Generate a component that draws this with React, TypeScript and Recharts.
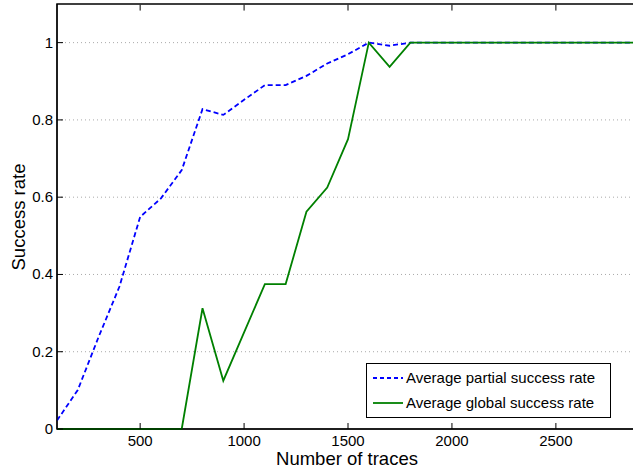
import React from 'react';
import { LineChart, Line, XAxis, YAxis, CartesianGrid, Legend, ReferenceLine, ReferenceArea } from 'recharts';

const traces = [100, 200, 300, 400, 500, 600, 700, 800, 900, 1000, 1100, 1200, 1300, 1400, 1500, 1600, 1700, 1800, 1900, 2000, 2100, 2200, 2300, 2400, 2500, 2600, 2700, 2800, 2900];
const partialRate = [0.022, 0.101, 0.238, 0.368, 0.549, 0.597, 0.67, 0.828, 0.813, 0.852, 0.89, 0.89, 0.914, 0.946, 0.97, 1.0, 0.992, 1, 1, 1, 1, 1, 1, 1, 1, 1, 1, 1, 1];
const globalRate = [0, 0, 0, 0, 0, 0, 0, 0.3125, 0.125, 0.25, 0.375, 0.375, 0.5625, 0.625, 0.75, 1.0, 0.9375, 1, 1, 1, 1, 1, 1, 1, 1, 1, 1, 1, 1];
const xTicks = [500, 1000, 1500, 2000, 2500];
const yTicks = [0, 0.2, 0.4, 0.6, 0.8, 1];
const yTickLabels = ['0', '0.2', '0.4', '0.6', '0.8', '1'];
const seriesNames = ['Average partial success rate', 'Average global success rate'];
const xMin = 100;
const xMax = 2871;
const yMax = 1.1;

const data = traces.map((t, i) => ({ t, partial: partialRate[i], global: globalRate[i] }));

const FONT = '"Liberation Sans", Arial, Helvetica, sans-serif';

const BottomTick = (props: any) => {
  const { x, y, payload } = props;
  return (
    <g>
      <line x1={x} x2={x} y1={y} y2={y - 6} stroke="#000" strokeWidth={1} />
      <text x={x} y={y + 17} textAnchor="middle" fontSize={15} fontFamily={FONT} fill="#000">
        {payload.value}
      </text>
    </g>
  );
};

const LeftTick = (props: any) => {
  const { x, y, payload } = props;
  const idx = yTicks.indexOf(payload.value);
  return (
    <g>
      <line x1={x} x2={x + 6} y1={y} y2={y} stroke="#000" strokeWidth={1} />
      <text x={x - 4} y={y + 5} textAnchor="end" fontSize={15} fontFamily={FONT} fill="#000">
        {idx >= 0 ? yTickLabels[idx] : payload.value}
      </text>
    </g>
  );
};

const LegendBox = () => (
  <div
    style={{
      width: 243,
      height: 53,
      border: '1px solid #000',
      background: '#fff',
      fontFamily: FONT,
      fontSize: 15,
      position: 'relative',
    }}
  >
    {seriesNames.map((name, i) => (
      <div key={name} style={{ position: 'absolute', left: 5, top: 4 + i * 25, height: 19, display: 'flex', alignItems: 'center' }}>
        <svg width={32} height={10} style={{ display: 'block' }}>
          <line
            x1={1}
            x2={31}
            y1={5}
            y2={5}
            stroke={i === 0 ? '#0000ff' : '#008000'}
            strokeWidth={1.8}
            strokeDasharray={i === 0 ? '4 3' : undefined}
          />
        </svg>
        <span style={{ marginLeft: 2, whiteSpace: 'nowrap', color: '#000' }}>{name}</span>
      </div>
    ))}
  </div>
);

export default function App() {
  return (
    <div style={{ position: 'absolute', left: 0, top: 0, width: 633, height: 474, background: '#fff' }}>
      <LineChart width={633} height={474} data={data} margin={{ top: 4, right: 0, bottom: 0, left: 0 }}>
        <CartesianGrid vertical={false} stroke="#aaa" strokeDasharray="1 3" horizontalValues={[0.2, 0.4, 0.6, 0.8, 1]} />
        <XAxis
          dataKey="t"
          type="number"
          domain={[xMin, xMax]}
          allowDataOverflow
          ticks={xTicks}
          interval={0}
          height={45}
          tickSize={0}
          tickMargin={0}
          tickLine={false}
          tick={<BottomTick />}
          axisLine={{ stroke: '#000', strokeWidth: 1 }}
          label={(p: any) => {
            const vb = p.viewBox || { x: 57, y: 429, width: 576, height: 45 };
            return (
              <text x={vb.x + vb.width / 2 + 2} y={465} textAnchor="middle" fontSize={18.5} fontFamily={FONT} fill="#000">
                Number of traces
              </text>
            );
          }}
        />
        <YAxis
          type="number"
          domain={[0, yMax]}
          ticks={yTicks}
          interval={0}
          width={57}
          tickSize={0}
          tickMargin={0}
          tickLine={false}
          tick={<LeftTick />}
          axisLine={{ stroke: '#000', strokeWidth: 1 }}
          label={() => (
            <text
              x={25}
              y={217}
              transform="rotate(-90, 25, 217)"
              textAnchor="middle"
              fontSize={18.5}
              fontFamily={FONT}
              fill="#000"
            >
              Success rate
            </text>
          )}
        />
        <ReferenceArea
          x1={xMin}
          x2={2950}
          y1={0}
          y2={yMax}
          stroke="#000"
          strokeWidth={1.5}
          fill="none"
          fillOpacity={0}
          ifOverflow="visible"
        />
        {xTicks.map((t) => (
          <ReferenceLine
            key={'tt' + t}
            segment={[{ x: t, y: 1.098 }, { x: t, y: 1.083 }]}
            stroke="#000"
            strokeWidth={1}
            ifOverflow="visible"
          />
        ))}
        <Legend
          layout="vertical"
          verticalAlign="middle"
          align="center"
          content={() => <LegendBox />}
          wrapperStyle={{ position: 'absolute', left: 366, top: 363, width: 245, height: 55 }}
        />
        <Line
          type="linear"
          dataKey="partial"
          name={seriesNames[0]}
          stroke="#0000ff"
          strokeWidth={1.8}
          strokeDasharray="5 3"
          dot={false}
          isAnimationActive={false}
        />
        <Line
          type="linear"
          dataKey="global"
          name={seriesNames[1]}
          stroke="#008000"
          strokeWidth={1.8}
          dot={false}
          isAnimationActive={false}
        />
      </LineChart>
    </div>
  );
}
